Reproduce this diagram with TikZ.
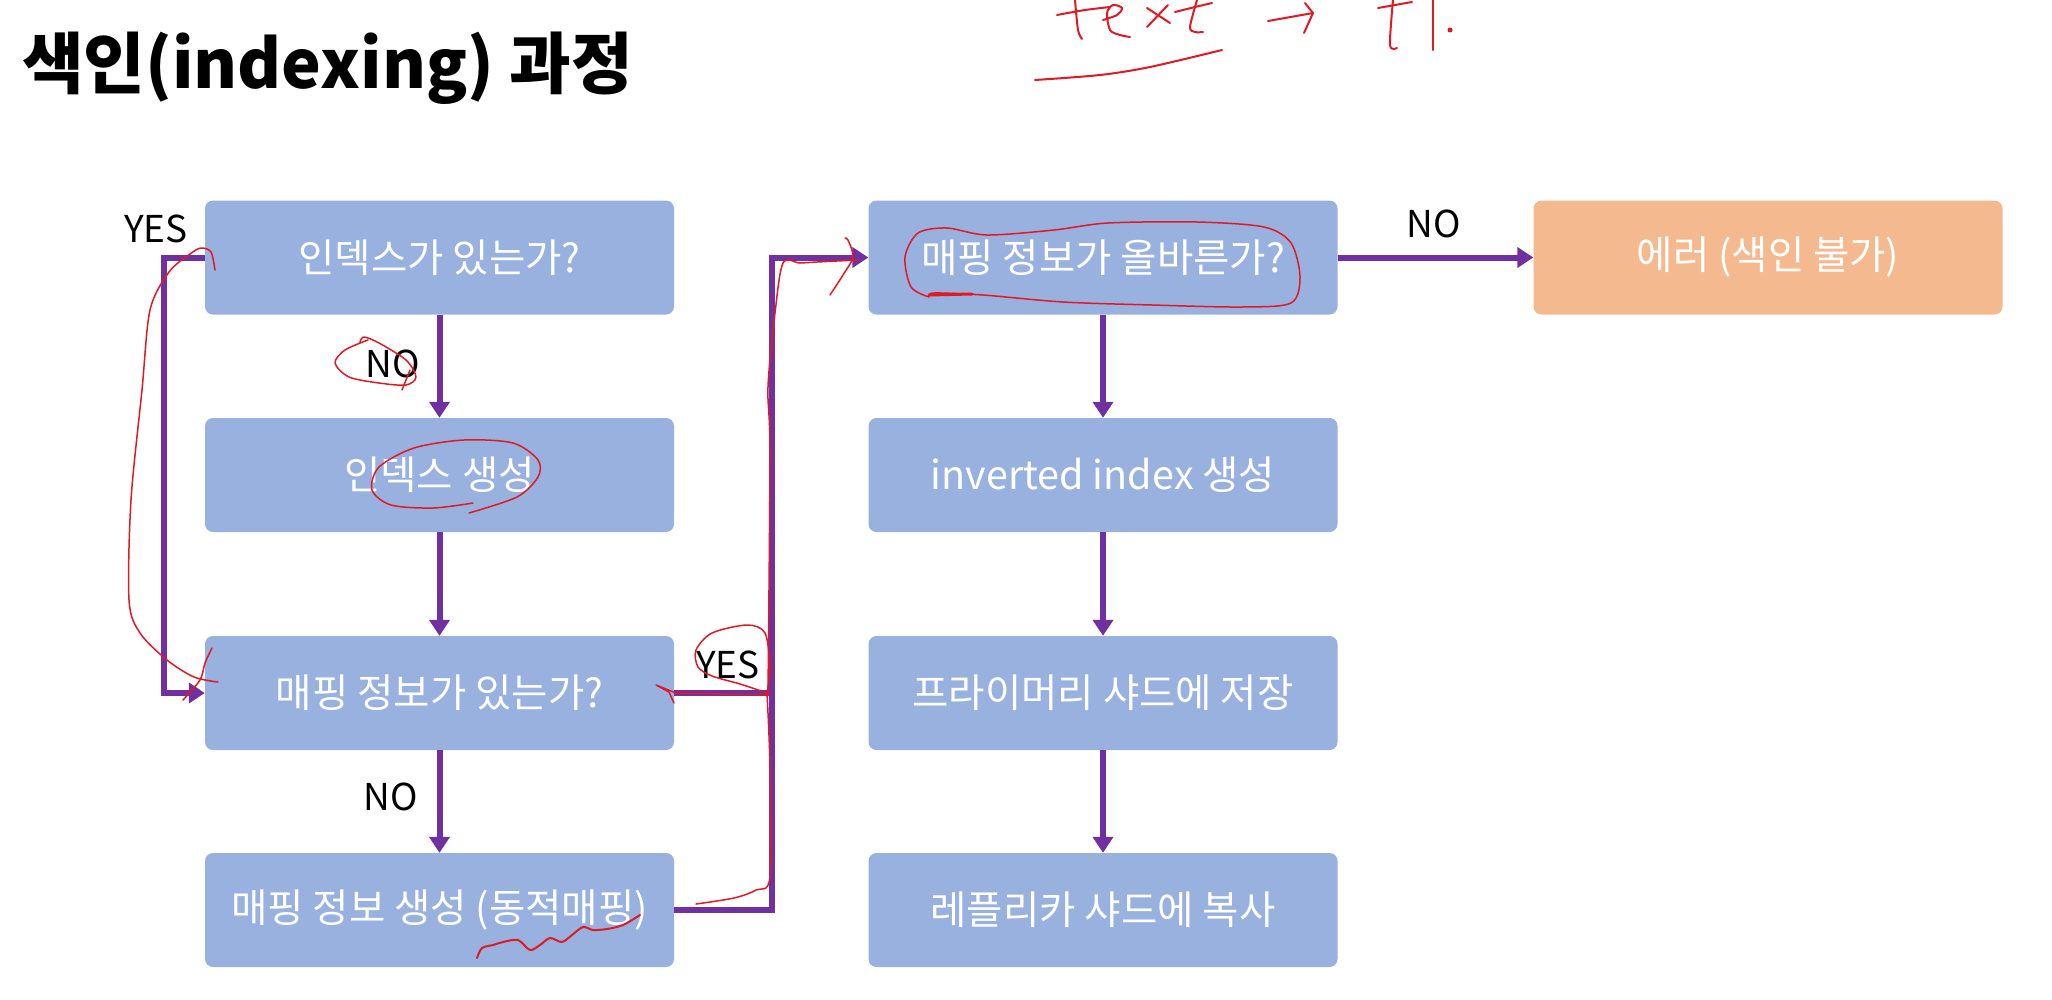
\documentclass[tikz,border=0pt]{standalone}
\usepackage{fontspec}
\setmainfont{Noto Sans CJK KR}
\usetikzlibrary{arrows.meta}
\definecolor{boxblue}{RGB}{152,177,222}
\definecolor{errorange}{RGB}{244,185,142}
\definecolor{flowpurple}{RGB}{112,48,160}
\definecolor{inkred}{RGB}{225,25,35}
\begin{document}
\begin{tikzpicture}[x=1pt,y=-1pt,
  box/.style={rectangle,rounded corners=8pt,fill=boxblue,minimum width=469pt,minimum height=114pt,inner sep=0pt,text=white,font=\fontsize{39.5}{44}\selectfont},
  errbox/.style={box,fill=errorange},
  conn/.style={draw=flowpurple,line width=6pt},
  arr/.style={conn,-{Triangle[width=20pt,length=16pt]}},
  lbl/.style={font=\fontsize{37}{40}\selectfont,text=black,inner sep=0pt},
  ink/.style={draw=inkred,line width=2pt,line cap=round,line join=round}]
\fill[white] (0,0) rectangle (2052,999);
\useasboundingbox (0,0) rectangle (2052,999);

% title
\node[anchor=base west,inner sep=0pt,font=\fontsize{67}{72}\selectfont\bfseries] (title) at (22,88) {색인(indexing) 과정};

% boxes
\node[box] (b1) at (439.5,257.5) {인덱스가 있는가?};
\node[box] (b2) at (439.5,475) {인덱스 생성};
\node[box] (b3) at (439.5,693) {매핑 정보가 있는가?};
\node[box] (b4) at (439.5,910) {매핑 정보 생성 (동적매핑)};
\node[box] (c1) at (1103,257.5) {매핑 정보가 올바른가?};
\node[box] (c2) at (1103,475) {inverted index 생성};
\node[box] (c3) at (1103,693) {프라이머리 샤드에 저장};
\node[box] (c4) at (1103,910) {레플리카 샤드에 복사};
\node[errbox] (err) at (1768,257.5) {에러 (색인 불가)};

% junction coordinates
\coordinate (jl) at (164,0);
\coordinate (jr) at (772,0);

% connectors
\draw[arr] (b1.south) -- (b2.north);
\draw[arr] (b2.south) -- (b3.north);
\draw[arr] (b3.south) -- (b4.north);
\draw[arr] (b1.west) -- (b1.west -| jl) -- (b3.west -| jl) -- (b3.west);
\draw[conn] (b3.east) -- (b3.east -| jr);
\draw[arr] (b4.east) -- (b4.east -| jr) -- (c1.west -| jr) -- (c1.west);
\draw[arr] (c1.east) -- (err.west);
\draw[arr] (c1.south) -- (c2.north);
\draw[arr] (c2.south) -- (c3.north);
\draw[arr] (c3.south) -- (c4.north);

% labels
\node[lbl] (l1) at (393,364) {NO};
\node[lbl] (l2) at (391,797) {NO};
\node[lbl] (l3) at (156,229) {YES};
\node[lbl] (l4) at (728,665) {YES};
\node[lbl] (l5) at (1434,224) {NO};

% red handwritten annotations
\draw[ink] plot[smooth] coordinates {(1057,15) (1085,10) (1110,7)};
\draw[ink] plot[smooth] coordinates {(1075,0) (1078,30) (1082,39)};
\draw[ink] plot[smooth] coordinates {(1103,20) (1117,15) (1122,8) (1113,5) (1107,13) (1110,30) (1120,35) (1130,37)};
\draw[ink] (1147,8) -- (1170,23);
\draw[ink] (1168,5) -- (1147,27);
\draw[ink] plot[smooth] coordinates {(1175,12) (1195,7) (1212,3)};
\draw[ink] plot[smooth] coordinates {(1197,0) (1190,27) (1195,32) (1203,32)};
\draw[ink] (1268,21) -- (1313,13);
\draw[ink] (1305,3) -- (1313,13) -- (1304,33);
\draw[ink] plot[smooth] coordinates {(1378,8) (1395,5) (1412,2)};
\draw[ink] plot[smooth] coordinates {(1393,0) (1390,45) (1397,48)};
\draw[ink] (1433,0) -- (1433,50);
\fill[inkred] (1450,30) circle (2.5pt);
\draw[ink] plot[smooth] coordinates {(1035,80) (1100,75) (1150,67) (1222,50)};

% left loop scribble
\draw[ink,line width=1.5pt] plot[smooth] coordinates {(215,270) (211,252) (201,248) (190,254) (169,272) (150,310) (142,390) (131,500) (129,600) (140,633) (167,660) (194,677) (218,682)};
\draw[ink,line width=1.5pt] plot[smooth] coordinates {(212,648) (205,663) (200,680) (183,700)};

% NO circle
\draw[ink,line width=1.5pt] plot[smooth] coordinates {(368,340) (345,350) (335,363) (349,377) (379,383) (406,385) (416,377) (406,360) (379,343) (364,337) (360,342)};
\draw[ink,line width=1.5pt] (410,370) -- (402,390);

% oval under 인덱스 생성
\draw[ink,line width=1.5pt] plot[smooth] coordinates {(473,503) (433,508) (391,505) (372,490) (379,467) (414,448) (464,440) (513,443) (538,460) (538,477) (517,497) (469,513)};

% YES loop and right line
\draw[ink,line width=1.5pt] plot[smooth] coordinates {(770,695) (720,694) (676,693)};
\draw[ink,line width=1.5pt] (676,693) -- (656,685) -- (669,692) -- (674,703);
\draw[ink,line width=1.5pt] plot[smooth] coordinates {(767,693) (740,684) (712,676) (698,667) (696,650) (712,633) (747,625) (765,633) (770,667) (767,693)};
\draw[ink,line width=1.5pt] plot[smooth] coordinates {(767,693) (770,767) (770,877) (756,890) (734,898) (696,904)};
\draw[ink,line width=1.5pt] plot[smooth] coordinates {(768,693) (770,453) (768,387) (775,313) (783,263) (800,263) (817,262) (857,260)};
\draw[ink,line width=1.5pt] plot[smooth] coordinates {(845,238) (848,240) (853,257) (843,275) (830,295)};

% oval around 매핑 정보가 올바른가?
\draw[ink,line width=1.5pt] plot[smooth] coordinates {(929,297) (911,287) (905,257) (918,233) (947,228) (987,235) (1054,230) (1108,223) (1197,222) (1264,227) (1291,243) (1300,277) (1291,303) (1242,307) (1152,305) (1063,302) (983,295) (934,293) (929,297)};
\draw[ink,line width=3pt] (929,295) -- (972,294);

% squiggle under (동적매핑)
\draw[ink] plot[smooth] coordinates {(477,958) (482,948) (493,945) (503,942) (518,940) (530,950) (540,945) (550,938) (562,942) (572,935) (583,927) (593,930) (607,929) (623,925) (640,915)};
\end{tikzpicture}
\end{document}
